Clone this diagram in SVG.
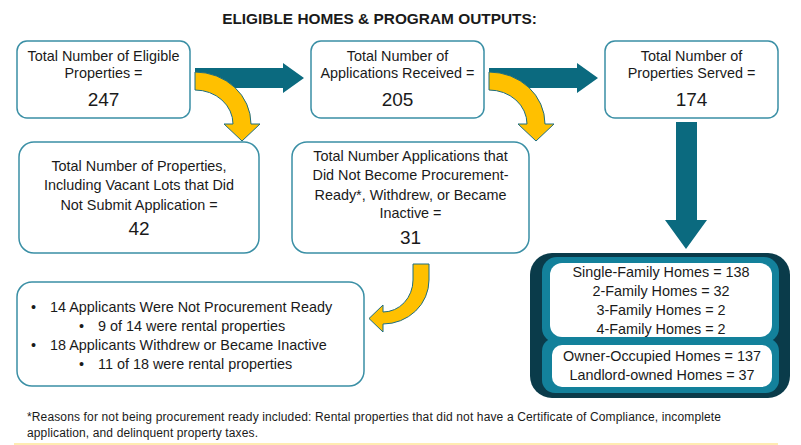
<svg xmlns="http://www.w3.org/2000/svg" width="801" height="445" viewBox="0 0 801 445">
<style>
text{font-family:"Liberation Sans",Arial,sans-serif;fill:#1a1a1a}
.t{font-size:14.4px;text-anchor:middle}
.l{font-size:14.4px}
.n{font-size:19px;text-anchor:middle}
.box{fill:#fff;stroke:#3a8fa5;stroke-width:1.5}
.teal{fill:#0b6a7f}
.yel{fill:#ffc000;stroke:#1f6e80;stroke-width:1}
.fn{font-size:12px}
</style>
<rect width="801" height="445" fill="#fff"/>
<text x="379.5" y="24" style="font-size:15.4px;font-weight:bold;text-anchor:middle">ELIGIBLE HOMES &amp; PROGRAM OUTPUTS:</text>

<g id="eligible">
<rect class="box" x="17" y="41" width="173" height="77" rx="10"/>
<text class="t" x="103.5" y="61">Total Number of Eligible</text>
<text class="t" x="103.5" y="78">Properties =</text>
<text class="n" x="103.5" y="106">247</text>
</g>
<g id="received">
<rect class="box" x="311" y="41" width="173" height="77" rx="10"/>
<text class="t" x="397.5" y="61">Total Number of</text>
<text class="t" x="397.5" y="78">Applications Received =</text>
<text class="n" x="397.5" y="106">205</text>
</g>
<g id="served">
<rect class="box" x="605" y="41" width="173" height="77" rx="10"/>
<text class="t" x="691.5" y="61">Total Number of</text>
<text class="t" x="691.5" y="78">Properties Served =</text>
<text class="n" x="691.5" y="106">174</text>
</g>
<g id="not-submitted">
<rect class="box" x="19" y="142" width="240" height="111" rx="15"/>
<text class="t" x="139" y="171">Total Number of Properties,</text>
<text class="t" x="139" y="190">Including Vacant Lots that Did</text>
<text class="t" x="139" y="210">Not Submit Application =</text>
<text class="n" x="139" y="234.5">42</text>
</g>
<g id="not-ready">
<rect class="box" x="292" y="142" width="237" height="111" rx="15"/>
<text class="t" x="410.5" y="161">Total Number Applications that</text>
<text class="t" x="410.5" y="180">Did Not Become Procurement-</text>
<text class="t" x="410.5" y="200">Ready*, Withdrew, or Became</text>
<text class="t" x="410.5" y="218">Inactive =</text>
<text class="n" x="410.5" y="243.5">31</text>
</g>
<g id="breakdown">
<rect class="box" x="17" y="282" width="347" height="104" rx="15"/>
<text class="l" x="31" y="312">•</text><text class="l" x="50" y="312">14 Applicants Were Not Procurement Ready</text>
<text class="l" x="79" y="331">•</text><text class="l" x="98" y="331">9 of 14 were rental properties</text>
<text class="l" x="31" y="350">•</text><text class="l" x="50" y="350">18 Applicants Withdrew or Became Inactive</text>
<text class="l" x="79" y="369">•</text><text class="l" x="98" y="369">11 of 18 were rental properties</text>
</g>
<g id="served-breakdown">
<rect x="530" y="253" width="260" height="145" rx="22" fill="#0a3b4a"/>
<rect x="542" y="257" width="237" height="86" rx="15" fill="#13819b"/>
<rect x="542" y="338" width="237" height="55" rx="13" fill="#13819b"/>
<rect x="550" y="263" width="222" height="74" rx="12" fill="#fff"/>
<rect x="552" y="345" width="220" height="42" rx="10" fill="#fff"/>
<text class="t" x="661" y="277">Single-Family Homes = 138</text>
<text class="t" x="661" y="296">2-Family Homes = 32</text>
<text class="t" x="661" y="315">3-Family Homes = 2</text>
<text class="t" x="661" y="334">4-Family Homes = 2</text>
<text class="t" x="662" y="361">Owner-Occupied Homes = 137</text>
<text class="t" x="662" y="380">Landlord-owned Homes = 37</text>
</g>

<g id="connectors">
<polygon class="teal" points="195,68 283,68 283,63 304,78 283,93 283,88 195,88"/>
<polygon class="teal" points="489,68 577,68 577,63 598,78 577,93 577,88 489,88"/>
<polygon class="teal" points="676,122 697,122 697,220 707,220 686,249 665,220 676,220"/>
<path class="yel" d="M195,72 A56,52 0 0 1 251,124 L260,124 L242,141 L224,124 L233,124 A38,34 0 0 0 195,90 Z"/>
<path class="yel" d="M489,72 A56,52 0 0 1 545,124 L554,124 L536,141 L518,124 L527,124 A38,34 0 0 0 489,90 Z"/>
<path class="yel" d="M413,264 L429,264 L429,280 A46,44 0 0 1 383,324 L383,332 L369,318.5 L383,305 L383,312 A30,32 0 0 0 413,280 Z"/>
</g>

<text class="fn" x="27" y="421" textLength="694" lengthAdjust="spacing">*Reasons for not being procurement ready included: Rental properties that did not have a Certificate of Compliance, incomplete</text>
<text class="fn" x="27" y="437" textLength="231" lengthAdjust="spacing">application, and delinquent property taxes.</text>
<line x1="14" y1="444" x2="778" y2="444" stroke="#ffe699" stroke-width="1.5"/>
</svg>
